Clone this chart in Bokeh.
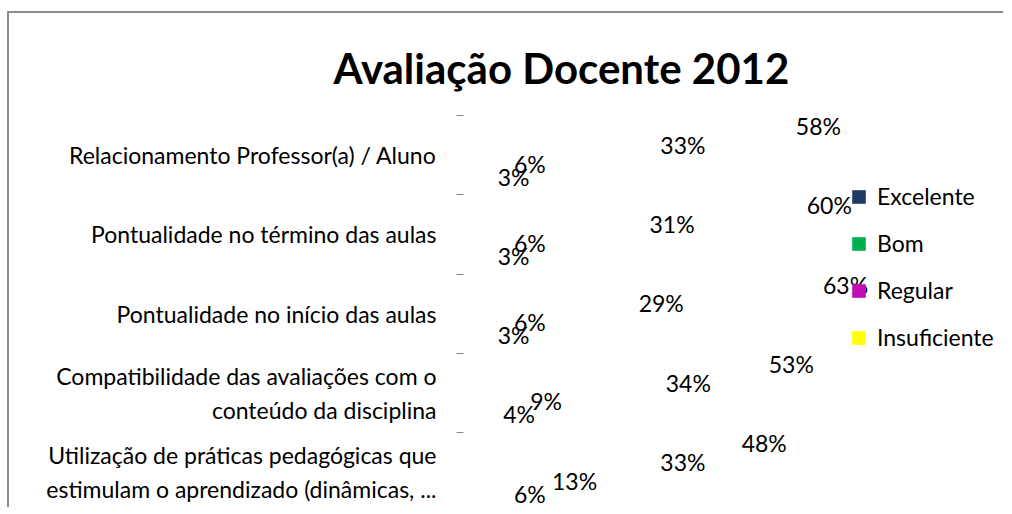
from bokeh.plotting import figure
from bokeh.models import (Range1d, LinearAxis, FixedTicker,
                          Legend, LegendItem, ColumnDataSource)
from bokeh.transform import dodge
from bokeh.core.properties import value
from bokeh.embed import file_html
from bokeh.resources import INLINE

# ---- data ----
categories = [
    "Relacionamento Professor(a) / Aluno",
    "Pontualidade no término das aulas",
    "Pontualidade no início das aulas",
    "Compatibilidade das avaliações com o\nconteúdo da disciplina",
    "Utilização de práticas pedagógicas que\nestimulam o aprendizado (dinâmicas, ...",
]
series_names = ["Excelente", "Bom", "Regular", "Insuficiente"]
excelente = [58, 60, 63, 53, 48]
bom = [33, 31, 29, 34, 33]
regular = [6, 6, 6, 9, 13]
insuficiente = [3, 3, 3, 4, 6]
title_text = "Avaliação Docente 2012"

# ---- styling ----
colors = ["#1F3864", "#00B050", "#C00EB4", "#FFFF00"]
offsets = [0.365, 0.13, -0.106, -0.27]
FONT = "Lato"
FS = "23px"

n = len(categories)
ypos = [n - 0.5 - i for i in range(n)]  # first category at top

values = [excelente, bom, regular, insuficiente]
data = dict(cat=categories, y=ypos)
for i, vals in enumerate(values):
    data[f"v{i}"] = vals
    data[f"l{i}"] = [f"{v}%" for v in vals]
src = ColumnDataSource(data)

p = figure(width=996, height=496,
           y_range=Range1d(0.03, n),
           x_range=Range1d(0, 100),
           output_backend="svg", toolbar_location=None,
           x_axis_location=None, y_axis_location=None,
           min_border_left=454, min_border_right=0,
           min_border_bottom=0, min_border_top=102)
p.outline_line_color = None
p.background_fill_color = "white"
p.border_fill_color = "white"
p.grid.visible = False
# chart-area border: top and left edges (right/bottom lie outside the window)
p.styles = {"margin-left": "7px", "margin-top": "11px", "vertical-align": "top",
            "border-top": "2px solid #8c8c8c", "border-left": "2px solid #8c8c8c"}

# tick marks at category boundaries
bounds = list(range(n + 1))
tick_axis = LinearAxis(ticker=FixedTicker(ticks=bounds),
                       major_label_overrides={b: "" for b in bounds},
                       axis_line_color=None, major_tick_line_color="#868686",
                       major_tick_in=0, major_tick_out=7,
                       minor_tick_line_color=None, major_label_standoff=0)
p.add_layout(tick_axis, "left")

# category labels at band centres
cat_axis = LinearAxis(ticker=FixedTicker(ticks=ypos),
                      major_label_overrides={y: c for y, c in zip(ypos, categories)},
                      axis_line_color=None, major_tick_line_color=None,
                      minor_tick_line_color=None,
                      major_tick_in=0, major_tick_out=0,
                      major_label_text_font=FONT,
                      major_label_text_font_size=FS,
                      major_label_text_color="black",
                      major_label_standoff=20)
p.add_layout(cat_axis, "left")

# title
p.title.text = title_text
p.title.text_font = FONT
p.title.text_font_style = "bold"
p.title.text_font_size = "42px"
p.title.text_color = "black"
p.title.align = "left"
p.title.offset = -130
p.title.standoff = 45

items = []
for i, name in enumerate(series_names):
    ycol = dodge("y", offsets[i])
    r = p.hbar(y=ycol, left=0, right=f"v{i}", height=0, source=src,
               fill_color=colors[i], line_color=None)
    p.text(x=f"v{i}", y=ycol, text=f"l{i}", source=src,
           x_offset=18, text_align="left", text_baseline="middle",
           text_font=value(FONT), text_font_size=FS, text_color="black")
    items.append(LegendItem(label=name, renderers=[r]))

legend = Legend(items=items, location=(387, 158), orientation="vertical",
                glyph_width=17, glyph_height=17, label_height=23, spacing=19,
                padding=0, margin=0, border_line_color=None,
                background_fill_alpha=0, label_text_font=FONT,
                label_text_font_size=FS, label_text_color="black",
                label_standoff=10)
p.add_layout(legend)

open("out.html", "w").write(file_html(p, INLINE))
